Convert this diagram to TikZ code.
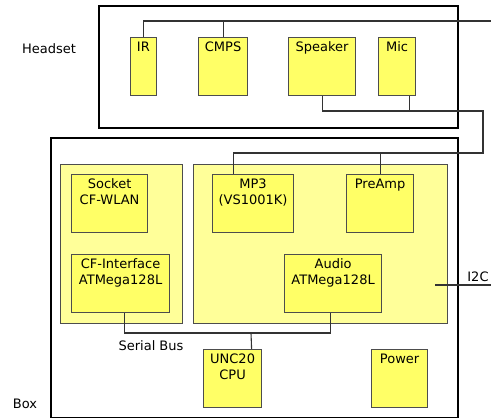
\documentclass[tikz,border=0pt]{standalone}
\usepackage{fontspec}
\setmainfont{DejaVu Sans}
\definecolor{panelfill}{HTML}{FFFF99}
\definecolor{blockfill}{HTML}{FFFF66}
\definecolor{edge}{HTML}{4D4D4D}
\tikzset{
  frame/.style={draw=black,line width=2pt,anchor=north west,inner sep=0pt},
  panel/.style={draw=edge,fill=panelfill,line width=1.2pt,anchor=north west,inner sep=0pt},
  blk/.style={draw=edge,fill=blockfill,line width=1.2pt,anchor=north west,inner sep=0pt},
  tag/.style={anchor=north,align=center,inner sep=4.5pt},
  wire/.style={draw=black!80,line width=1.1pt},
}
\begin{document}
\begin{tikzpicture}[x=1pt,y=-1pt,font=\fontsize{13}{16}\selectfont]
			\useasboundingbox (0,0) rectangle (491,418);
			% headset
			\node[frame,minimum width=359,minimum height=122] (headset) at (98,5) {};
			\node (headsettxt) at (49,49) {Headset};
			\node[blk,minimum width=26.5,minimum height=58,label={[tag]north:IR}] (ir) at (129.5,37) {};
			\node[blk,minimum width=49,minimum height=58,label={[tag]north:CMPS}] (cmps) at (198,37) {};
			\node[blk,minimum width=67,minimum height=58,label={[tag]north:Speaker}] (spk) at (288,37) {};
			\node[blk,minimum width=37,minimum height=58,label={[tag]north:Mic}] (mic) at (378,37) {};
			% box
			\node[frame,minimum width=407,minimum height=280] (box) at (50,137) {};
			\node (boxtxt) at (25,404) {Box};
			\node[panel,minimum width=122,minimum height=159] (left) at (60,164) {};
			\node[panel,minimum width=254,minimum height=159] (right) at (193,164) {};
			\node[blk,minimum width=76,minimum height=58,label={[tag]north:Socket\\CF-WLAN}] (sock) at (71,174) {};
			\node[blk,minimum width=98,minimum height=58,label={[tag]north:CF-Interface\\ATMega128L}] (cfi) at (71,254) {};
			\node[blk,minimum width=81,minimum height=58,label={[tag]north:MP3\\(VS1001K)}] (mp3) at (212,174) {};
			\node[blk,minimum width=67,minimum height=58,label={[tag]north:PreAmp}] (pre) at (346,174) {};
			\node[blk,minimum width=97,minimum height=58,label={[tag]north:Audio\\ATMega128L}] (audio) at (284,254) {};
			\node[blk,minimum width=58,minimum height=58,label={[tag]north:UNC20\\CPU}] (cpu) at (203,349) {};
			\node[blk,minimum width=56,minimum height=58,label={[tag]north:Power}] (power) at (371,349) {};
			\node (sbtxt) at (151,346) {Serial Bus};
			\node (i2ctxt) at (478,277) {I2C};
			% wiring
			\coordinate (ext) at (491,21);
			\coordinate (hsbus) at (483,111);
			\coordinate (bxbus) at (483,153);
			\coordinate (sb) at (251,333);
			\coordinate (i2c) at (435,285);
			\draw[wire] (ir.north) |- (ext);
			\draw[wire] (cmps.north) -- (cmps.north |- ext);
			\draw[wire] (spk.south) |- (hsbus) -- (bxbus) -| ([xshift=-19.5]mp3.north);
			\draw[wire] ([xshift=12.5]mic.south) -- ([xshift=12.5]mic.south |- hsbus);
			\draw[wire] (pre.north) -- (pre.north |- bxbus);
			\draw[wire] ([xshift=4]cfi.south) |- (sb) -| ([xshift=-2.5]audio.south);
			\draw[wire] (sb) -- ([xshift=19]cpu.north);
			\draw[wire] (i2c) -- (491,285);
\end{tikzpicture}
\end{document}
